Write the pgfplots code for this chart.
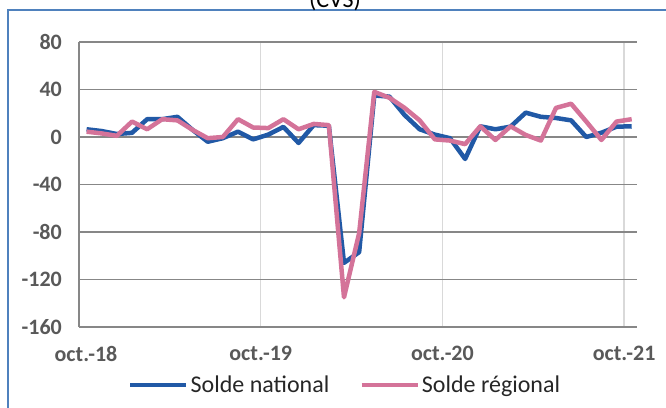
\documentclass[border=0pt]{standalone}
\usepackage{pgfplots}
\pgfplotsset{compat=1.18}
\usepackage{fontspec}
\setmainfont{Carlito}
\definecolor{natblue}{RGB}{33,89,166}
\definecolor{regpink}{RGB}{212,115,153}
\definecolor{gridgray}{RGB}{135,135,135}
\definecolor{vgrid}{RGB}{217,217,217}
\definecolor{ticktxt}{RGB}{89,89,89}
\definecolor{framecol}{RGB}{79,129,189}
\pgfplotstableread{
x nat reg
0.5 6.5 4.5
1.5 5 3
2.5 2.5 1
3.5 3.5 13
4.5 15 6.5
5.5 15 15
6.5 17 14
7.5 6 6
8.5 -4 -1
9.5 -1 0
10.5 4.5 15
11.5 -2 8
12.5 2 7.5
13.5 8.5 15
14.5 -5 6.5
15.5 10 11
16.5 9.5 10
17.5 -106 -135
18.5 -97 -81
19.5 35 38
20.5 34 33
21.5 18.5 24.5
22.5 6.5 14
23.5 2 -2
24.5 -1 -3
25.5 -18.5 -6
26.5 9 9
27.5 6.5 -2.5
28.5 8.7 9
29.5 20.5 1.7
30.5 17 -3
31.5 16 24.5
32.5 14 28
33.5 0 13
34.5 3.6 -2.5
35.5 8.7 13
36.5 9 15
}\datatable
\begin{document}
\begin{tikzpicture}
\useasboundingbox (0,0) rectangle (666bp,408bp);
\clip (0,0) rectangle (666bp,408bp);
\draw[framecol, line width=1.5bp] (8bp,-20bp) rectangle (700bp,398bp);
\node[anchor=base, inner sep=0pt, font=\fontsize{24bp}{28bp}\selectfont] at (335bp,400bp) {(CVS)};
\begin{axis}[
  at={(79bp,81bp)}, anchor=south west,
  scale only axis, width=558bp, height=285bp,
  xmin=0, xmax=36.85, ymin=-160, ymax=80,
  xtick={0,12,24,36},
  xticklabels={\hspace*{14bp}oct.-18,oct.-19,oct.-20,oct.-21},
  ytick={-160,-120,-80,-40,0,40,80},
  major tick length=0pt,
  axis x line*=bottom, axis y line*=left,
  axis line style={gridgray, line width=1.5bp},
  every outer x axis line/.append style={-},
  every outer y axis line/.append style={-},
  ymajorgrids, xmajorgrids,
  y grid style={gridgray, line width=1.5bp},
  x grid style={vgrid, line width=1.5bp},
  tick label style={font=\fontsize{22bp}{26bp}\selectfont\bfseries, text=ticktxt},
  /pgf/number format/assume math mode=true,
  yticklabel style={anchor=east, inner sep=0pt, xshift=-17bp},
  xticklabel style={anchor=north, inner sep=0pt, yshift=-19bp},
  legend style={at={(0.477,-0.204)}, anchor=center, draw=none, fill=none,
    legend columns=2, font=\fontsize{24bp}{28bp}\selectfont, text=black!85,
    /tikz/every even column/.append style={column sep=28bp},
    inner sep=0pt, cells={anchor=west}},
  legend image code/.code={\draw[#1] (0bp,0bp) -- (56bp,0bp);},
  clip=false,
]
\addplot[natblue, line width=4.5bp, line join=round] table[x=x, y=nat] {\datatable};
\addlegendentry{Solde national}
\addplot[regpink, line width=4.5bp, line join=round] table[x=x, y=reg] {\datatable};
\addlegendentry{Solde régional}
\end{axis}
\end{tikzpicture}
\end{document}
